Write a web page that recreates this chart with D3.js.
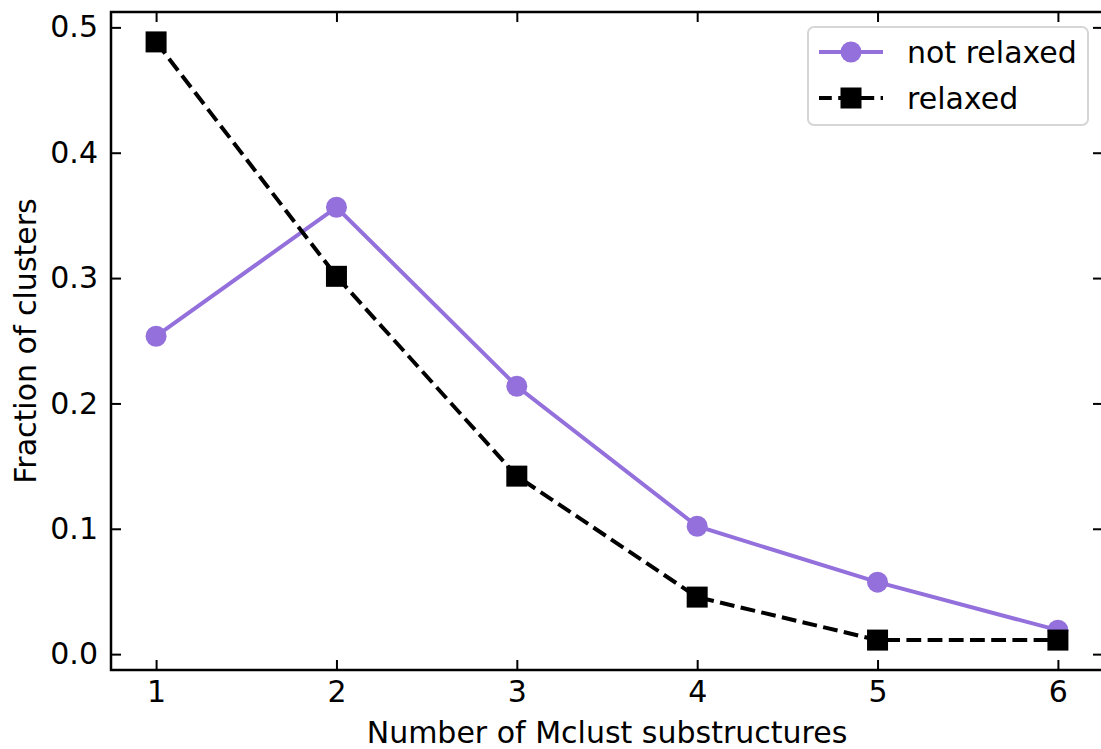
<!DOCTYPE html>
<html>
<head>
<meta charset="utf-8">
<script src="https://cdn.jsdelivr.net/npm/d3@7"></script>
<style>
  body { margin: 0; background: #fff; }
  text { font-family: "DejaVu Sans", sans-serif; }
</style>
</head>
<body>
<div class="chart"></div>
<script>
// data
const substructures = [1, 2, 3, 4, 5, 6]
const notRelaxed = [0.2536, 0.3565, 0.2137, 0.1020, 0.0574, 0.0191]
const relaxed = [0.4884, 0.3014, 0.1420, 0.0455, 0.0112, 0.0112]
const xTicks = [1, 2, 3, 4, 5, 6]
const yTicks = [0.0, 0.1, 0.2, 0.3, 0.4, 0.5]

const W = 1101, H = 749
const margin = { top: 12, left: 111, bottom: 79, right: -2 }

const svg = d3.select(".chart").append("svg")
    .attr("width", W)
    .attr("height", H)

// matplotlib-style 5% margins
const xPad = (d3.max(substructures) - d3.min(substructures)) * 0.05
const allY = notRelaxed.concat(relaxed)
const yPad = (d3.max(allY) - d3.min(allY)) * 0.05

const xScale = d3.scaleLinear()
    .domain([d3.min(substructures) - xPad, d3.max(substructures) + xPad])
    .range([margin.left, W - margin.right])
const yScale = d3.scaleLinear()
    .domain([d3.min(allY) - yPad, d3.max(allY) + yPad])
    .range([H - margin.bottom, margin.top])

const x0 = xScale.range()[0], x1 = xScale.range()[1]
const y0 = yScale.range()[0], y1 = yScale.range()[1]

// axes, ticks pointing inward on all four sides
const fontSize = 30
svg.append("g").attr("transform", `translate(0,${y0})`)
    .call(d3.axisBottom(xScale).tickValues(xTicks).tickFormat(d3.format("d")).tickSize(-10).tickPadding(11))
svg.append("g").attr("transform", `translate(0,${y1})`)
    .call(d3.axisTop(xScale).tickValues(xTicks).tickFormat("").tickSize(-10))
svg.append("g").attr("transform", `translate(${x0},0)`)
    .call(d3.axisLeft(yScale).tickValues(yTicks).tickFormat(d3.format(".1f")).tickSize(-10).tickPadding(13))
svg.append("g").attr("transform", `translate(${x1},0)`)
    .call(d3.axisRight(yScale).tickValues(yTicks).tickFormat("").tickSize(-10))

svg.selectAll(".domain").remove()
svg.selectAll(".tick line").attr("stroke", "#000").attr("stroke-width", 2)
svg.selectAll(".tick text")
    .attr("font-size", fontSize)
    .attr("fill", "#000")

// frame
svg.append("rect")
    .attr("x", x0).attr("y", y1)
    .attr("width", x1 - x0).attr("height", y0 - y1)
    .attr("fill", "none")
    .attr("stroke", "#000")
    .attr("stroke-width", 2.5)

// axis labels
svg.append("text")
    .attr("x", (x0 + x1) / 2)
    .attr("y", 743)
    .attr("text-anchor", "middle")
    .attr("font-size", fontSize)
    .text("Number of Mclust substructures")

svg.append("text")
    .attr("transform", `translate(36,${(y0 + y1) / 2}) rotate(-90)`)
    .attr("text-anchor", "middle")
    .attr("font-size", fontSize)
    .text("Fraction of clusters")

const purple = "#9370db"
const line = d3.line()
    .x((d, i) => xScale(substructures[i]))
    .y(d => yScale(d))

// not relaxed: solid purple with circles
svg.append("path")
    .datum(notRelaxed)
    .attr("d", line)
    .attr("fill", "none")
    .attr("stroke", purple)
    .attr("stroke-width", 4)

svg.selectAll(".nr-dot")
    .data(notRelaxed)
    .enter().append("circle")
    .attr("class", "nr-dot")
    .attr("cx", (d, i) => xScale(substructures[i]))
    .attr("cy", d => yScale(d))
    .attr("r", 10.5)
    .attr("fill", purple)

// relaxed: dashed black with squares
svg.append("path")
    .datum(relaxed)
    .attr("d", line)
    .attr("fill", "none")
    .attr("stroke", "#000")
    .attr("stroke-width", 4)
    .attr("stroke-dasharray", "14.8,6.4")

const sq = 21
svg.selectAll(".r-sq")
    .data(relaxed)
    .enter().append("rect")
    .attr("class", "r-sq")
    .attr("x", (d, i) => xScale(substructures[i]) - sq / 2)
    .attr("y", d => yScale(d) - sq / 2)
    .attr("width", sq)
    .attr("height", sq)
    .attr("fill", "#000")

// legend
const legend = svg.append("g")
legend.append("rect")
    .attr("x", 808).attr("y", 27)
    .attr("width", 280).attr("height", 98)
    .attr("rx", 6)
    .attr("fill", "#fff")
    .attr("fill-opacity", 0.8)
    .attr("stroke", "#d6d6d6")
    .attr("stroke-width", 2)

const items = [
    { label: "not relaxed", color: purple, dash: null, marker: "circle", y: 52 },
    { label: "relaxed", color: "#000", dash: "14.8,6.4", marker: "square", y: 98 }
]
items.forEach(it => {
    legend.append("line")
        .attr("x1", 819).attr("x2", 883)
        .attr("y1", it.y).attr("y2", it.y)
        .attr("stroke", it.color)
        .attr("stroke-width", 4)
        .attr("stroke-dasharray", it.dash)
        .attr("stroke-dashoffset", it.dash ? 2 : null)
    if (it.marker === "circle") {
        legend.append("circle").attr("cx", 851).attr("cy", it.y).attr("r", 10.5).attr("fill", it.color)
    } else {
        legend.append("rect").attr("x", 851 - sq / 2).attr("y", it.y - sq / 2)
            .attr("width", sq).attr("height", sq).attr("fill", it.color)
    }
    legend.append("text")
        .attr("x", 907).attr("y", it.y)
        .attr("dy", "0.35em")
        .attr("font-size", fontSize)
        .text(it.label)
})
</script>
</body>
</html>
